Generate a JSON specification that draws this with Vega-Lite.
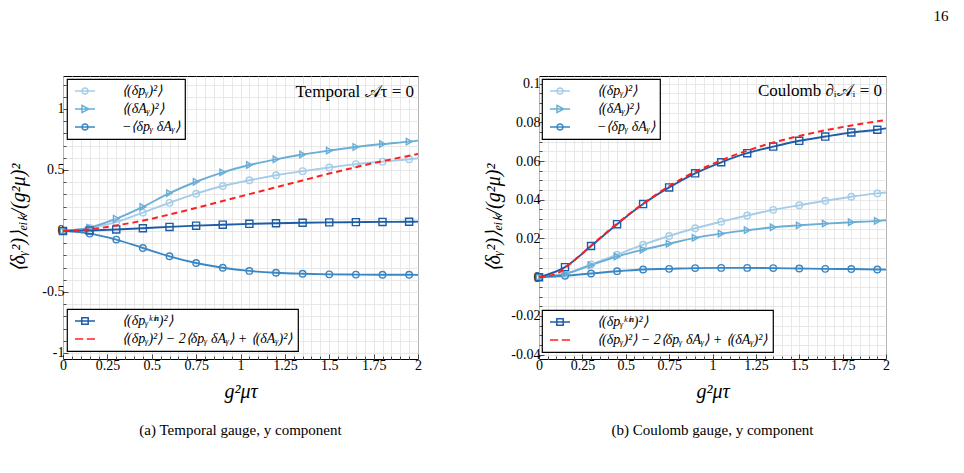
{
  "$schema": "https://vega.github.io/schema/vega-lite/v6.json",
  "background": "white",
  "padding": {"left": 7, "top": 8, "right": 5, "bottom": 5},
  "title": {"text": "16", "anchor": "end", "dx": 58, "offset": 52, "fontSize": 15, "font": "Liberation Serif", "fontWeight": "normal", "color": "black"},
  "datasets": {
    "temporal": [
      {"x":0,"s":"py2","v":0},{"x":0.15,"s":"py2","v":0.025},{"x":0.3,"s":"py2","v":0.072},{"x":0.45,"s":"py2","v":0.15},{"x":0.6,"s":"py2","v":0.23},{"x":0.75,"s":"py2","v":0.305},{"x":0.9,"s":"py2","v":0.368},{"x":1.05,"s":"py2","v":0.415},{"x":1.2,"s":"py2","v":0.456},{"x":1.35,"s":"py2","v":0.49},{"x":1.5,"s":"py2","v":0.52},{"x":1.65,"s":"py2","v":0.548},{"x":1.8,"s":"py2","v":0.568},{"x":1.95,"s":"py2","v":0.587},{"x":2,"s":"py2","v":0.595},
      {"x":0,"s":"ay2","v":0},{"x":0.15,"s":"ay2","v":0.027},{"x":0.3,"s":"ay2","v":0.1},{"x":0.45,"s":"ay2","v":0.197},{"x":0.6,"s":"ay2","v":0.31},{"x":0.75,"s":"ay2","v":0.403},{"x":0.9,"s":"ay2","v":0.48},{"x":1.05,"s":"ay2","v":0.54},{"x":1.2,"s":"ay2","v":0.587},{"x":1.35,"s":"ay2","v":0.626},{"x":1.5,"s":"ay2","v":0.658},{"x":1.65,"s":"ay2","v":0.688},{"x":1.8,"s":"ay2","v":0.712},{"x":1.95,"s":"ay2","v":0.732},{"x":2,"s":"ay2","v":0.74},
      {"x":0,"s":"mpa","v":0},{"x":0.15,"s":"mpa","v":-0.022},{"x":0.3,"s":"mpa","v":-0.071},{"x":0.45,"s":"mpa","v":-0.14},{"x":0.6,"s":"mpa","v":-0.208},{"x":0.75,"s":"mpa","v":-0.263},{"x":0.9,"s":"mpa","v":-0.302},{"x":1.05,"s":"mpa","v":-0.328},{"x":1.2,"s":"mpa","v":-0.343},{"x":1.35,"s":"mpa","v":-0.351},{"x":1.5,"s":"mpa","v":-0.356},{"x":1.65,"s":"mpa","v":-0.358},{"x":1.8,"s":"mpa","v":-0.359},{"x":1.95,"s":"mpa","v":-0.359},{"x":2,"s":"mpa","v":-0.36},
      {"x":0,"s":"kin","v":0},{"x":0.15,"s":"kin","v":0.004},{"x":0.3,"s":"kin","v":0.012},{"x":0.45,"s":"kin","v":0.022},{"x":0.6,"s":"kin","v":0.033},{"x":0.75,"s":"kin","v":0.043},{"x":0.9,"s":"kin","v":0.051},{"x":1.05,"s":"kin","v":0.058},{"x":1.2,"s":"kin","v":0.063},{"x":1.35,"s":"kin","v":0.067},{"x":1.5,"s":"kin","v":0.07},{"x":1.65,"s":"kin","v":0.072},{"x":1.8,"s":"kin","v":0.074},{"x":1.95,"s":"kin","v":0.075},{"x":2,"s":"kin","v":0.076},
      {"x":0,"s":"sum","v":0},{"x":0.1,"s":"sum","v":0.006},{"x":0.2,"s":"sum","v":0.022},{"x":0.3,"s":"sum","v":0.045},{"x":0.4,"s":"sum","v":0.07},{"x":0.5,"s":"sum","v":0.1},{"x":0.6,"s":"sum","v":0.135},{"x":0.7,"s":"sum","v":0.17},{"x":0.8,"s":"sum","v":0.207},{"x":0.9,"s":"sum","v":0.245},{"x":1,"s":"sum","v":0.283},{"x":1.1,"s":"sum","v":0.32},{"x":1.2,"s":"sum","v":0.358},{"x":1.3,"s":"sum","v":0.395},{"x":1.4,"s":"sum","v":0.433},{"x":1.5,"s":"sum","v":0.47},{"x":1.6,"s":"sum","v":0.505},{"x":1.7,"s":"sum","v":0.54},{"x":1.8,"s":"sum","v":0.572},{"x":1.9,"s":"sum","v":0.602},{"x":2,"s":"sum","v":0.63}
    ],
    "coulomb": [
      {"x":0,"s":"py2","v":0},{"x":0.15,"s":"py2","v":0.0018},{"x":0.3,"s":"py2","v":0.0066},{"x":0.45,"s":"py2","v":0.0116},{"x":0.6,"s":"py2","v":0.0168},{"x":0.75,"s":"py2","v":0.0213},{"x":0.9,"s":"py2","v":0.0253},{"x":1.05,"s":"py2","v":0.0287},{"x":1.2,"s":"py2","v":0.0319},{"x":1.35,"s":"py2","v":0.0348},{"x":1.5,"s":"py2","v":0.0372},{"x":1.65,"s":"py2","v":0.0395},{"x":1.8,"s":"py2","v":0.0416},{"x":1.95,"s":"py2","v":0.0433},{"x":2,"s":"py2","v":0.0438},
      {"x":0,"s":"ay2","v":0},{"x":0.15,"s":"ay2","v":0.0017},{"x":0.3,"s":"ay2","v":0.0062},{"x":0.45,"s":"ay2","v":0.0107},{"x":0.6,"s":"ay2","v":0.0142},{"x":0.75,"s":"ay2","v":0.0173},{"x":0.9,"s":"ay2","v":0.0203},{"x":1.05,"s":"ay2","v":0.0225},{"x":1.2,"s":"ay2","v":0.0243},{"x":1.35,"s":"ay2","v":0.0258},{"x":1.5,"s":"ay2","v":0.0268},{"x":1.65,"s":"ay2","v":0.0277},{"x":1.8,"s":"ay2","v":0.0284},{"x":1.95,"s":"ay2","v":0.0291},{"x":2,"s":"ay2","v":0.0294},
      {"x":0,"s":"mpa","v":0},{"x":0.15,"s":"mpa","v":0.0007},{"x":0.3,"s":"mpa","v":0.0019},{"x":0.45,"s":"mpa","v":0.0031},{"x":0.6,"s":"mpa","v":0.004},{"x":0.75,"s":"mpa","v":0.0043},{"x":0.9,"s":"mpa","v":0.0047},{"x":1.05,"s":"mpa","v":0.0048},{"x":1.2,"s":"mpa","v":0.0048},{"x":1.35,"s":"mpa","v":0.0047},{"x":1.5,"s":"mpa","v":0.0045},{"x":1.65,"s":"mpa","v":0.0043},{"x":1.8,"s":"mpa","v":0.0042},{"x":1.95,"s":"mpa","v":0.004},{"x":2,"s":"mpa","v":0.0039},
      {"x":0,"s":"kin","v":0},{"x":0.15,"s":"kin","v":0.0052},{"x":0.3,"s":"kin","v":0.0161},{"x":0.45,"s":"kin","v":0.0274},{"x":0.6,"s":"kin","v":0.0378},{"x":0.75,"s":"kin","v":0.0464},{"x":0.9,"s":"kin","v":0.0537},{"x":1.05,"s":"kin","v":0.0594},{"x":1.2,"s":"kin","v":0.0641},{"x":1.35,"s":"kin","v":0.0675},{"x":1.5,"s":"kin","v":0.0705},{"x":1.65,"s":"kin","v":0.0727},{"x":1.8,"s":"kin","v":0.0748},{"x":1.95,"s":"kin","v":0.0762},{"x":2,"s":"kin","v":0.0769},
      {"x":0,"s":"sum","v":0},{"x":0.1,"s":"sum","v":0.0018},{"x":0.2,"s":"sum","v":0.0085},{"x":0.3,"s":"sum","v":0.0163},{"x":0.4,"s":"sum","v":0.024},{"x":0.5,"s":"sum","v":0.0313},{"x":0.6,"s":"sum","v":0.038},{"x":0.7,"s":"sum","v":0.0442},{"x":0.8,"s":"sum","v":0.0497},{"x":0.9,"s":"sum","v":0.0545},{"x":1,"s":"sum","v":0.0585},{"x":1.1,"s":"sum","v":0.0622},{"x":1.2,"s":"sum","v":0.0654},{"x":1.3,"s":"sum","v":0.0683},{"x":1.4,"s":"sum","v":0.0708},{"x":1.5,"s":"sum","v":0.073},{"x":1.6,"s":"sum","v":0.075},{"x":1.7,"s":"sum","v":0.0768},{"x":1.8,"s":"sum","v":0.0784},{"x":1.9,"s":"sum","v":0.0799},{"x":2,"s":"sum","v":0.0812}
    ]
  },
  "hconcat": [
    {
      "width": 355,
      "height": 283,
      "data": {"name": "temporal"},
      "title": {"text": "(a) Temporal gauge, y component", "orient": "bottom", "anchor": "middle", "offset": 22, "fontSize": 15, "font": "Liberation Serif", "fontWeight": "normal", "color": "black"},
      "encoding": {
        "x": {"field": "x", "type": "quantitative", "scale": {"domain": [0, 2], "nice": false, "zero": false},
          "axis": {"values": [0,0.05,0.1,0.15,0.2,0.25,0.3,0.35,0.4,0.45,0.5,0.55,0.6,0.65,0.7,0.75,0.8,0.85,0.9,0.95,1,1.05,1.1,1.15,1.2,1.25,1.3,1.35,1.4,1.45,1.5,1.55,1.6,1.65,1.7,1.75,1.8,1.85,1.9,1.95,2],
            "labelExpr": "round(datum.value*100) % 25 === 0 ? '' + datum.value : ''",
            "tickSize": {"condition": {"test": "round(datum.value*100) % 25 === 0", "value": -5}, "value": -3},
            "title": "g²μτ", "titleY": 32, "titleBaseline": "middle"}},
        "y": {"field": "v", "type": "quantitative", "scale": {"domain": [-1.05, 1.27], "nice": false, "zero": false},
          "axis": {"values": [-1,-0.9,-0.8,-0.7,-0.6,-0.5,-0.4,-0.3,-0.2,-0.1,0,0.1,0.2,0.3,0.4,0.5,0.6,0.7,0.8,0.9,1,1.1,1.2],
            "labelExpr": "abs(round(datum.value*10)) % 5 === 0 ? '' + datum.value : ''",
            "tickSize": {"condition": {"test": "abs(round(datum.value*10)) % 5 === 0", "value": -5}, "value": -3},
            "title": "⟨δᵧ²)⟩ₑᵢₖ/(g²μ)²", "titleX": -45, "titleY": 141.5, "titleBaseline": "middle", "titleAlign": "center", "titleAngle": -90}}
      },
      "layer": [
        {
          "transform": [{"filter": "datum.s === 'py2' || datum.s === 'ay2' || datum.s === 'mpa'"}],
          "encoding": {
            "color": {"field": "s", "type": "nominal", "scale": {"domain": ["py2", "ay2", "mpa"], "range": ["#a6cde8", "#6aaed6", "#3a87c4"]},
              "legend": {"title": null, "legendX": 4, "legendY": 3,
                "labelExpr": "datum.value === 'py2' ? '⟨(δpᵧ)²⟩' : datum.value === 'ay2' ? '⟨(δAᵧ)²⟩' : '−⟨δpᵧ δAᵧ⟩'",
                "encode": {"symbols": {"update": {"shape": {"signal": "datum.value === 'ay2' ? 'M-2.5,0H2.5M-0.75,-0.9L0.95,0L-0.75,0.9Z' : 'M-2.5,0H2.5M0.75,0C0.75,0.414 0.414,0.75 0,0.75C-0.414,0.75 -0.75,0.414 -0.75,0C-0.75,-0.414 -0.414,-0.75 0,-0.75C0.414,-0.75 0.75,-0.414 0.75,0Z'"}, "fill": {"value": "transparent"}}}}}}
          },
          "layer": [
            {"mark": {"type": "line", "interpolate": "monotone", "strokeWidth": 1.9}},
            {"transform": [{"filter": "datum.x < 2 && datum.s !== 'ay2'"}], "mark": {"type": "point", "shape": "circle", "filled": false, "size": 42, "strokeWidth": 1.4, "opacity": 1}},
            {"transform": [{"filter": "datum.x < 2 && datum.s === 'ay2'"}], "mark": {"type": "point", "shape": "triangle-right", "filled": false, "size": 42, "strokeWidth": 1.4, "opacity": 1}}
          ]
        },
        {
          "transform": [{"filter": "datum.s === 'kin' || datum.s === 'sum'"}],
          "encoding": {
            "color": {"field": "s", "type": "nominal", "scale": {"domain": ["kin", "sum"], "range": ["#1f5ca6", "#ff2020"]},
              "legend": {"title": null, "legendX": 4, "legendY": 233,
                "labelExpr": "datum.value === 'kin' ? '⟨(δpᵧᵏⁱⁿ)²⟩' : '⟨(δpᵧ)²⟩ − 2⟨δpᵧ δAᵧ⟩ + ⟨(δAᵧ)²⟩'",
                "encode": {"symbols": {"update": {"shape": {"signal": "datum.value === 'sum' ? 'M-2.5,0H-0.45M0.45,0H2.5' : 'M-2.5,0H2.5M-0.8,-0.8H0.8V0.8H-0.8Z'"}, "fill": {"value": "transparent"}}}}}}
          },
          "layer": [
            {"transform": [{"filter": "datum.s === 'kin'"}], "mark": {"type": "line", "interpolate": "monotone", "strokeWidth": 1.9}},
            {"transform": [{"filter": "datum.s === 'kin' && datum.x < 2"}], "mark": {"type": "point", "shape": "square", "filled": false, "size": 50, "strokeWidth": 1.4, "opacity": 1}},
            {"transform": [{"filter": "datum.s === 'sum'"}], "mark": {"type": "line", "interpolate": "monotone", "strokeWidth": 2, "strokeDash": [6, 4]}}
          ]
        },
        {
          "data": {"values": [{"x": 2, "v": 1.1, "t": "Temporal 𝒜τ = 0"}]},
          "mark": {"type": "text", "align": "right", "baseline": "alphabetic", "dx": -4, "fontSize": 17, "font": "Liberation Serif", "color": "black"},
          "encoding": {"text": {"field": "t", "type": "nominal"}}
        }
      ],
      "resolve": {"scale": {"color": "independent"}, "legend": {"color": "independent"}}
    },
    {
      "width": 347,
      "height": 283,
      "data": {"name": "coulomb"},
      "title": {"text": "(b) Coulomb gauge, y component", "orient": "bottom", "anchor": "middle", "offset": 22, "fontSize": 15, "font": "Liberation Serif", "fontWeight": "normal", "color": "black"},
      "encoding": {
        "x": {"field": "x", "type": "quantitative", "scale": {"domain": [0, 2], "nice": false, "zero": false},
          "axis": {"values": [0,0.05,0.1,0.15,0.2,0.25,0.3,0.35,0.4,0.45,0.5,0.55,0.6,0.65,0.7,0.75,0.8,0.85,0.9,0.95,1,1.05,1.1,1.15,1.2,1.25,1.3,1.35,1.4,1.45,1.5,1.55,1.6,1.65,1.7,1.75,1.8,1.85,1.9,1.95,2],
            "labelExpr": "round(datum.value*100) % 25 === 0 ? '' + datum.value : ''",
            "tickSize": {"condition": {"test": "round(datum.value*100) % 25 === 0", "value": -5}, "value": -3},
            "title": "g²μτ", "titleY": 32, "titleBaseline": "middle"}},
        "y": {"field": "v", "type": "quantitative", "scale": {"domain": [-0.0423, 0.104], "nice": false, "zero": false},
          "axis": {"values": [-0.04,-0.035,-0.03,-0.025,-0.02,-0.015,-0.01,-0.005,0,0.005,0.01,0.015,0.02,0.025,0.03,0.035,0.04,0.045,0.05,0.055,0.06,0.065,0.07,0.075,0.08,0.085,0.09,0.095,0.1],
            "labelExpr": "abs(round(datum.value*1000)) % 20 === 0 ? '' + datum.value : ''",
            "tickSize": {"condition": {"test": "abs(round(datum.value*1000)) % 20 === 0", "value": -5}, "value": -3},
            "title": "⟨δᵧ²)⟩ₑᵢₖ/(g²μ)²", "titleX": -46, "titleY": 141.5, "titleBaseline": "middle", "titleAlign": "center", "titleAngle": -90}}
      },
      "layer": [
        {
          "transform": [{"filter": "datum.s === 'py2' || datum.s === 'ay2' || datum.s === 'mpa'"}],
          "encoding": {
            "color": {"field": "s", "type": "nominal", "scale": {"domain": ["py2", "ay2", "mpa"], "range": ["#a6cde8", "#6aaed6", "#3a87c4"]},
              "legend": {"title": null, "legendX": 3, "legendY": 3,
                "labelExpr": "datum.value === 'py2' ? '⟨(δpᵧ)²⟩' : datum.value === 'ay2' ? '⟨(δAᵧ)²⟩' : '−⟨δpᵧ δAᵧ⟩'",
                "encode": {"symbols": {"update": {"shape": {"signal": "datum.value === 'ay2' ? 'M-2.5,0H2.5M-0.75,-0.9L0.95,0L-0.75,0.9Z' : 'M-2.5,0H2.5M0.75,0C0.75,0.414 0.414,0.75 0,0.75C-0.414,0.75 -0.75,0.414 -0.75,0C-0.75,-0.414 -0.414,-0.75 0,-0.75C0.414,-0.75 0.75,-0.414 0.75,0Z'"}, "fill": {"value": "transparent"}}}}}}
          },
          "layer": [
            {"mark": {"type": "line", "interpolate": "monotone", "strokeWidth": 1.9}},
            {"transform": [{"filter": "datum.x < 2 && datum.s !== 'ay2'"}], "mark": {"type": "point", "shape": "circle", "filled": false, "size": 42, "strokeWidth": 1.4, "opacity": 1}},
            {"transform": [{"filter": "datum.x < 2 && datum.s === 'ay2'"}], "mark": {"type": "point", "shape": "triangle-right", "filled": false, "size": 42, "strokeWidth": 1.4, "opacity": 1}}
          ]
        },
        {
          "transform": [{"filter": "datum.s === 'kin' || datum.s === 'sum'"}],
          "encoding": {
            "color": {"field": "s", "type": "nominal", "scale": {"domain": ["kin", "sum"], "range": ["#1f5ca6", "#ff2020"]},
              "legend": {"title": null, "legendX": 3, "legendY": 234,
                "labelExpr": "datum.value === 'kin' ? '⟨(δpᵧᵏⁱⁿ)²⟩' : '⟨(δpᵧ)²⟩ − 2⟨δpᵧ δAᵧ⟩ + ⟨(δAᵧ)²⟩'",
                "encode": {"symbols": {"update": {"shape": {"signal": "datum.value === 'sum' ? 'M-2.5,0H-0.45M0.45,0H2.5' : 'M-2.5,0H2.5M-0.8,-0.8H0.8V0.8H-0.8Z'"}, "fill": {"value": "transparent"}}}}}}
          },
          "layer": [
            {"transform": [{"filter": "datum.s === 'kin'"}], "mark": {"type": "line", "interpolate": "monotone", "strokeWidth": 1.9}},
            {"transform": [{"filter": "datum.s === 'kin' && datum.x < 2"}], "mark": {"type": "point", "shape": "square", "filled": false, "size": 50, "strokeWidth": 1.4, "opacity": 1}},
            {"transform": [{"filter": "datum.s === 'sum'"}], "mark": {"type": "line", "interpolate": "monotone", "strokeWidth": 2, "strokeDash": [6, 4]}}
          ]
        },
        {
          "data": {"values": [{"x": 2, "v": 0.0935, "t": "Coulomb ∂ᵢ𝒜ᵢ = 0"}]},
          "mark": {"type": "text", "align": "right", "baseline": "alphabetic", "dx": -4, "fontSize": 17, "font": "Liberation Serif", "color": "black"},
          "encoding": {"text": {"field": "t", "type": "nominal"}}
        }
      ],
      "resolve": {"scale": {"color": "independent"}, "legend": {"color": "independent"}}
    }
  ],
  "spacing": 121,
  "bounds": "flush",
  "config": {
    "view": {"stroke": "black", "strokeWidth": 1},
    "font": "Liberation Serif",
    "text": {"font": "Liberation Serif"},
    "axis": {
      "domain": false,
      "grid": true,
      "gridColor": "#e2e2e2",
      "gridWidth": 0.8,
      "ticks": true,
      "tickColor": "#222222",
      "tickWidth": 0.8,
      "labelFont": "Liberation Serif",
      "labelFontSize": 14,
      "labelColor": "black",
      "labelPadding": 4,
      "labelFlush": false,
      "labelOverlap": false,
      "titleFont": "Liberation Serif",
      "titleFontSize": 20,
      "titleFontStyle": "italic",
      "titleFontWeight": "normal",
      "titleColor": "black"
    },
    "legend": {
      "orient": "none",
      "strokeColor": "black",
      "strokeWidth": 1.2,
      "fillColor": "white",
      "padding": 5,
      "cornerRadius": 0,
      "labelFont": "Liberation Serif",
      "labelFontSize": 14,
      "labelFontStyle": "italic",
      "labelColor": "black",
      "labelLimit": 500,
      "labelOffset": 30,
      "symbolSize": 64,
      "symbolOffset": 6,
      "symbolStrokeWidth": 1.5,
      "symbolFillColor": "transparent",
      "rowPadding": 4
    }
  }
}
